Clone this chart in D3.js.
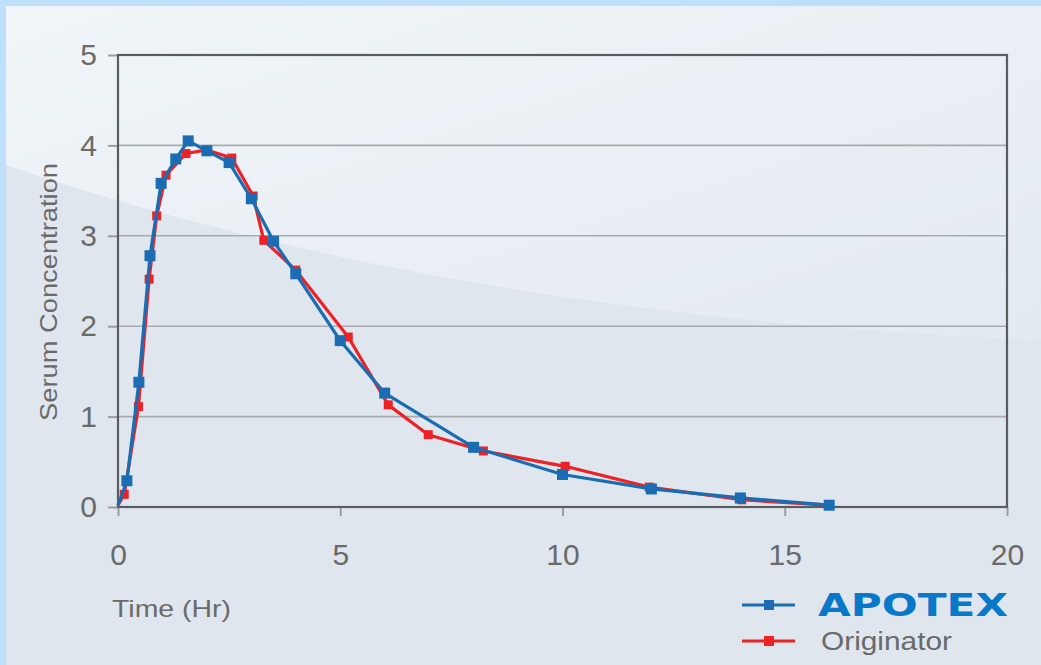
<!DOCTYPE html>
<html>
<head>
<meta charset="utf-8">
<script src="https://cdn.jsdelivr.net/npm/d3@7"></script>
<style>
  body { margin: 0; background: #bfe0fb; }
  svg { display: block; font-family: "Liberation Sans", Arial, sans-serif; }
</style>
</head>
<body>
<svg id="chart" width="1041" height="665"></svg>
<script>
// values
const apotexTime = [0, 0.2, 0.47, 0.72, 0.97, 1.3, 1.58, 2, 2.5, 3, 3.5, 4, 5, 6, 8, 10, 12, 14, 16]
const apotexConc = [0.02, 0.29, 1.38, 2.78, 3.58, 3.85, 4.05, 3.94, 3.81, 3.41, 2.94, 2.58, 1.84, 1.26, 0.66, 0.36, 0.2, 0.1, 0.02]
const origTime = [0, 0.14, 0.46, 0.7, 0.87, 1.08, 1.53, 2, 2.56, 3.04, 3.28, 4, 5.18, 6.08, 6.98, 8.22, 10.06, 11.95, 14.03, 16]
const origConc = [0.02, 0.14, 1.11, 2.52, 3.22, 3.67, 3.91, 3.95, 3.86, 3.44, 2.95, 2.62, 1.88, 1.13, 0.8, 0.62, 0.45, 0.22, 0.08, 0.02]
const xTicks = [0, 5, 10, 15, 20]
const yTicks = [0, 1, 2, 3, 4, 5]

const svg = d3.select('#chart')
const width = 1041, height = 665

// background panel with gradient and the pale swoosh
const defs = svg.append('defs')
const bgGrad = defs.append('linearGradient').attr('id', 'bg')
  .attr('x1', 0).attr('y1', 0).attr('x2', 1).attr('y2', 1)
bgGrad.append('stop').attr('offset', 0).attr('stop-color', '#f1f5f9')
bgGrad.append('stop').attr('offset', 1).attr('stop-color', '#e3eaf1')

svg.append('rect')
  .attr('x', 6).attr('y', 6)
  .attr('width', width - 6).attr('height', height - 6)
  .attr('fill', '#dfe6ee')

svg.append('path')
  .attr('d', 'M6,6 L1041,6 L1041,340 C800,330 400,300 6,165 Z')
  .attr('fill', 'url(#bg)')

const margin = { left: 118, right: 34, top: 55, bottom: 158 }
const x = d3.scaleLinear().domain([0, 20]).range([margin.left, width - margin.right])
const y = d3.scaleLinear().domain([0, 5]).range([height - margin.bottom, margin.top])

// grid lines
svg.append('g').selectAll('line')
  .data(yTicks.slice(1, -1))
  .enter().append('line')
  .attr('x1', x(0)).attr('x2', x(20))
  .attr('y1', d => y(d)).attr('y2', d => y(d))
  .attr('stroke', '#a7abb0').attr('stroke-width', 1.6)

// axes
const xAxis = d3.axisBottom(x).tickValues(xTicks).tickFormat(d3.format('d')).tickSize(9).tickPadding(28)
const yAxis = d3.axisLeft(y).tickValues(yTicks).tickFormat(d3.format('d')).tickSize(10).tickPadding(11)

const xG = svg.append('g')
  .attr('transform', `translate(0,${y(0)})`)
  .call(xAxis)
const yG = svg.append('g')
  .attr('transform', `translate(${x(0)},0)`)
  .call(yAxis)

for (const g of [xG, yG]) {
  g.select('.domain').remove()
  g.selectAll('line').attr('stroke', '#9a9ea3').attr('stroke-width', 2)
  g.selectAll('text')
    .attr('fill', '#6a6a6a')
    .attr('font-size', 30)
    .attr('font-family', '"Liberation Sans", Arial, sans-serif')
}

// plot frame
svg.append('rect')
  .attr('x', x(0)).attr('y', y(5))
  .attr('width', x(20) - x(0)).attr('height', y(0) - y(5))
  .attr('fill', 'none')
  .attr('stroke', '#5a5d60').attr('stroke-width', 2.2)

// axis titles
svg.append('text')
  .attr('transform', `translate(57,${(y(0) + y(5)) / 2 + 11}) rotate(-90)`)
  .attr('text-anchor', 'middle')
  .attr('font-size', 24)
  .attr('fill', '#6a6a6a')
  .attr('textLength', 258)
  .attr('lengthAdjust', 'spacingAndGlyphs')
  .text('Serum Concentration')

svg.append('text')
  .attr('x', 112).attr('y', 617)
  .attr('font-size', 24)
  .attr('fill', '#6a6a6a')
  .attr('textLength', 119)
  .attr('lengthAdjust', 'spacingAndGlyphs')
  .text('Time (Hr)')

// series
const series = [
  { name: 'Originator', time: origTime, conc: origConc, color: '#ec2227', size: 9 },
  { name: 'APOTEX', time: apotexTime, conc: apotexConc, color: '#1b6db3', size: 11 }
]

const line = d3.line().x(d => x(d[0])).y(d => y(d[1]))

series.forEach(s => {
  const pts = s.time.map((t, i) => [t, s.conc[i]])
  const g = svg.append('g')
  g.append('path')
    .attr('d', line(pts))
    .attr('fill', 'none')
    .attr('stroke', s.color)
    .attr('stroke-width', 3.2)
    .attr('stroke-linejoin', 'round')
  g.selectAll('rect')
    .data(pts.slice(1))
    .enter().append('rect')
    .attr('x', d => x(d[0]) - s.size / 2)
    .attr('y', d => y(d[1]) - s.size / 2)
    .attr('width', s.size).attr('height', s.size)
    .attr('fill', s.color)
})

// legend
const legend = svg.append('g')
const legendItems = [
  { label: 'APOTEX', color: '#1b6db3', y: 605 },
  { label: 'Originator', color: '#ec2227', y: 641 }
]
legendItems.forEach(d => {
  legend.append('line')
    .attr('x1', 742).attr('x2', 795)
    .attr('y1', d.y).attr('y2', d.y)
    .attr('stroke', d.color).attr('stroke-width', 3)
  legend.append('rect')
    .attr('x', 764).attr('y', d.y - 5)
    .attr('width', 10).attr('height', 10)
    .attr('fill', d.color)
})
legend.append('text')
  .attr('x', 818).attr('y', 616)
  .attr('font-size', 32)
  .attr('font-weight', 'bold')
  .attr('font-family', '"DejaVu Sans", sans-serif')
  .attr('fill', '#0a78c8')
  .attr('textLength', 190)
  .attr('lengthAdjust', 'spacingAndGlyphs')
  .text('APOTEX')
legend.append('text')
  .attr('x', 821).attr('y', 650)
  .attr('font-size', 26)
  .attr('fill', '#6a6a6a')
  .attr('textLength', 131)
  .attr('lengthAdjust', 'spacingAndGlyphs')
  .text('Originator')
</script>
</body>
</html>
